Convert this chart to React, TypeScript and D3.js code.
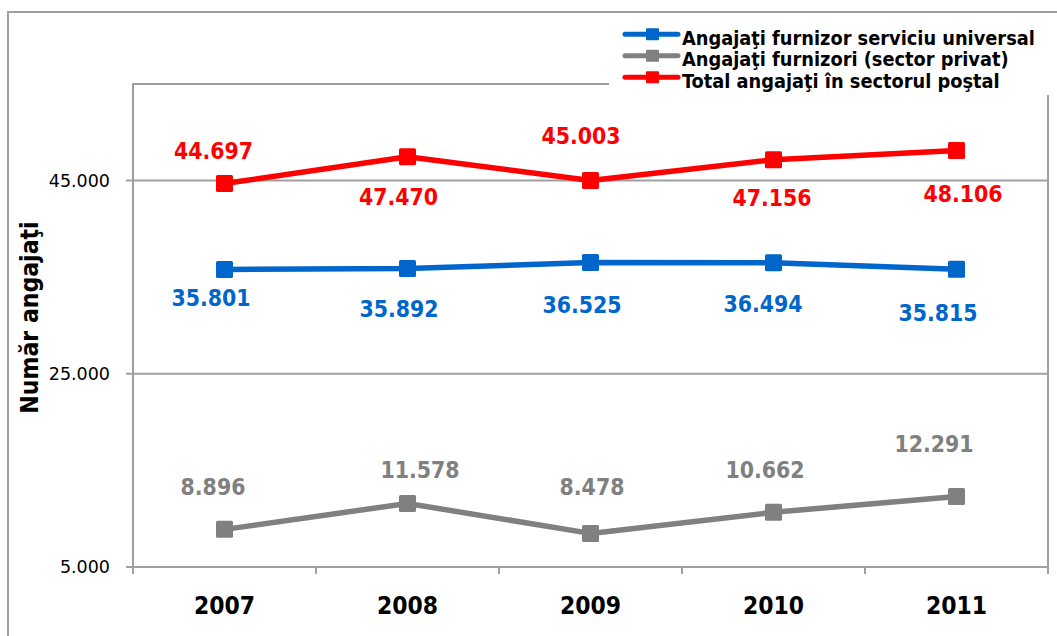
import React from "react";
import * as d3 from "d3";

const years = ["2007", "2008", "2009", "2010", "2011"];
const universal = [35801, 35892, 36525, 36494, 35815];
const privat = [8896, 11578, 8478, 10662, 12291];
const total = [44697, 47470, 45003, 47156, 48106];
const yTicks = [5000, 25000, 45000];
const seriesNames = [
  "Angajaţi furnizor serviciu universal",
  "Angajaţi furnizori (sector privat)",
  "Total angajaţi în sectorul poştal",
];
const yTitle = "Număr angajaţi";

// label placement offsets (dx, dy) relative to each marker
const offUniversal = [[-13.5, 37], [-8.5, 48.4], [-8.5, 50.5], [-10.5, 49.2], [-18.5, 51.7]];
const offPrivat = [[-11.5, -34.4], [12.5, -25.5], [1.5, -38.4], [-8.5, -34.3], [-22.5, -44.6]];
const offTotal = [[-11, -24.5], [-9, 48.3], [-9.5, -36.6], [-1.5, 46.3], [6.5, 51.5]];

const FONT = "'DejaVu Sans Condensed', 'DejaVu Sans', sans-serif";
const FONT_REG = "'DejaVu Sans', sans-serif";
const GRID = "#a0a0a0";

const fmt = (v: number) => d3.format(",")(v).replace(/,/g, ".");

export default function App() {
  const W = 1057, H = 636;
  const left = 133, right = 1048, top = 84, bottom = 567;
  const x = d3.scaleBand<string>().domain(years).range([left, right]);
  const y = d3.scaleLinear().domain([5000, 55000]).range([bottom, top]);
  const cx = (yr: string) => (x(yr) as number) + x.bandwidth() / 2;
  const line = d3.line<number>().x((_, i) => cx(years[i])).y((d) => y(d));

  const series = [
    { name: seriesNames[0], values: universal, color: "#0066cc", off: offUniversal },
    { name: seriesNames[1], values: privat, color: "#808080", off: offPrivat },
    { name: seriesNames[2], values: total, color: "#ff0000", off: offTotal },
  ];
  const ms = 17;
  const boundaries = [...years.map((yr) => x(yr) as number), right];

  return (
    <svg width={W} height={H} style={{ position: "absolute", left: 0, top: 0, background: "#fff" }} fontFamily={FONT}>
      {/* outer frame */}
      <path d={`M8,${H + 2} V12 H${W + 2}`} fill="none" stroke={GRID} strokeWidth={2} />
      {/* gridlines */}
      {yTicks.map((t) => (
        <line key={t} x1={left - 7} x2={right} y1={y(t)} y2={y(t)} stroke={GRID} strokeWidth={2} />
      ))}
      {/* plot border */}
      <rect x={left} y={top} width={right - left} height={bottom - top} fill="none" stroke={GRID} strokeWidth={2} />
      {/* x ticks */}
      {boundaries.map((b, i) => (
        <line key={i} x1={b} x2={b} y1={bottom} y2={bottom + 7} stroke={GRID} strokeWidth={2} />
      ))}
      {/* y tick labels */}
      {yTicks.map((t) => (
        <text key={t} x={110} y={y(t)} dy="0.36em" textAnchor="end" fontSize={17.5} fontFamily={FONT_REG} fill="#000">
          {fmt(t)}
        </text>
      ))}
      {/* x labels */}
      {years.map((yr) => (
        <text key={yr} x={cx(yr)} y={614} textAnchor="middle" fontSize={24.4} fontWeight="bold" fill="#000">
          {yr}
        </text>
      ))}
      {/* y title */}
      <text transform={`translate(38,317.5) rotate(-90)`} textAnchor="middle" fontSize={24.5} fontWeight="bold" fill="#000">
        {yTitle}
      </text>
      {/* series */}
      {series.map((s) => (
        <g key={s.name}>
          <path d={line(s.values) as string} fill="none" stroke={s.color} strokeWidth={5.5} strokeLinejoin="round" />
          {s.values.map((v, i) => (
            <rect key={i} x={cx(years[i]) - ms / 2} y={y(v) - ms / 2} width={ms} height={ms} rx={1.5} fill={s.color} />
          ))}
          {s.values.map((v, i) => (
            <text
              key={"l" + i}
              x={cx(years[i]) + s.off[i][0]}
              y={y(v) + s.off[i][1]}
              textAnchor="middle"
              fontSize={22.8}
              fontWeight="bold"
              fill={s.color}
            >
              {fmt(v)}
            </text>
          ))}
        </g>
      ))}
      {/* legend */}
      <rect x={609} y={22} width={444} height={73} fill="#fff" />
      {series.map((s, i) => {
        const ly = 34.3 + i * 21.5;
        return (
          <g key={"lg" + i}>
            <line x1={625} x2={678} y1={ly} y2={ly} stroke={s.color} strokeWidth={5} strokeLinecap="round" />
            <rect x={646} y={ly - 6} width={13} height={12} rx={1} fill={s.color} />
            <text x={682} y={ly + 10.5} fontSize={19.8} fontWeight="bold" fill="#000">
              {s.name}
            </text>
          </g>
        );
      })}
    </svg>
  );
}
